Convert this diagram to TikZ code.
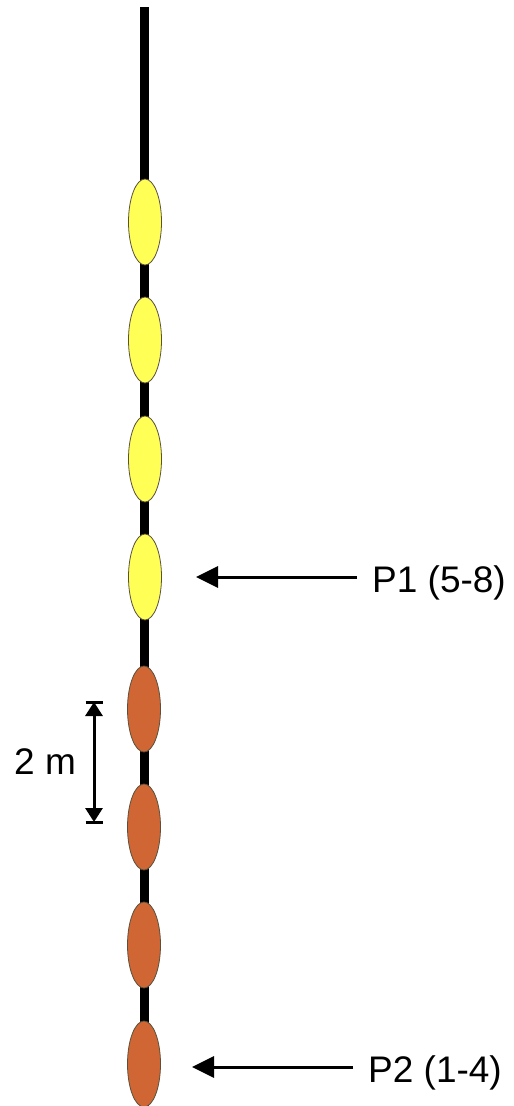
\documentclass[tikz,border=0pt]{standalone}
\usepackage{fontspec}
\setmainfont{Liberation Sans}
\usetikzlibrary{shapes.geometric,arrows.meta}
\definecolor{floatyellow}{RGB}{255,255,85}
\definecolor{floatorange}{RGB}{207,102,52}
\definecolor{floatedge}{RGB}{90,80,60}
\tikzset{
  floatbody/.style={ellipse,draw=floatedge,line width=0.8pt,minimum width=33pt,minimum height=86pt,inner sep=0pt},
  yfloat/.style={floatbody,fill=floatyellow},
  ofloat/.style={floatbody,fill=floatorange},
  rope/.style={line width=9pt,black},
  pointer/.style={line width=3pt,-{Triangle[length=22pt,width=21pt]}},
  label/.style={font=\fontsize{37}{44}\selectfont,inner sep=0pt},
  dimline/.style={line width=3pt,{Triangle[length=14pt,width=17pt]}-{Triangle[length=14pt,width=17pt]}},
  dimbar/.style={line width=3pt}
}
\begin{document}
\begin{tikzpicture}[x=1pt,y=-1pt]
\useasboundingbox (0,0) rectangle (514,1106);
\coordinate (ropetop) at (144,7);
\coordinate (ropebot) at (144,1106);
\draw[rope] (ropetop) -- (ropebot);
\node[yfloat] (f8) at (145,222) {};
\node[yfloat] (f7) at (145,340) {};
\node[yfloat] (f6) at (145,459) {};
\node[yfloat] (f5) at (145,577) {};
\node[ofloat] (f4) at (144,709) {};
\node[ofloat] (f3) at (144,827) {};
\node[ofloat] (f2) at (144,945) {};
\node[ofloat] (f1) at (144,1064) {};
% labels
\node[label,anchor=base west] (p1) at (372,592) {P1 (5-8)};
\node[label,anchor=base west] (p2) at (368,1082) {P2 (1-4)};
\coordinate (p1tail) at (357,577);
\coordinate (p1tip) at (196,577);
\coordinate (p2tail) at (353,1067);
\coordinate (p2tip) at (192,1067);
\draw[pointer] (p1tail) -- (p1tip);
\draw[pointer] (p2tail) -- (p2tip);
% dimension
\coordinate (dtop) at (94,702);
\coordinate (dbot) at (94,822);
\coordinate (dtl) at (85.5,702);
\coordinate (dtr) at (103,702);
\coordinate (dbl) at (85.5,822);
\coordinate (dbr) at (103,822);
\draw[dimbar] (dtl) -- (dtr);
\draw[dimbar] (dbl) -- (dbr);
\draw[dimline] (dtop) -- (dbot);
\node[label,anchor=base west] (dim) at (14,774) {2 m};
\end{tikzpicture}
\end{document}
